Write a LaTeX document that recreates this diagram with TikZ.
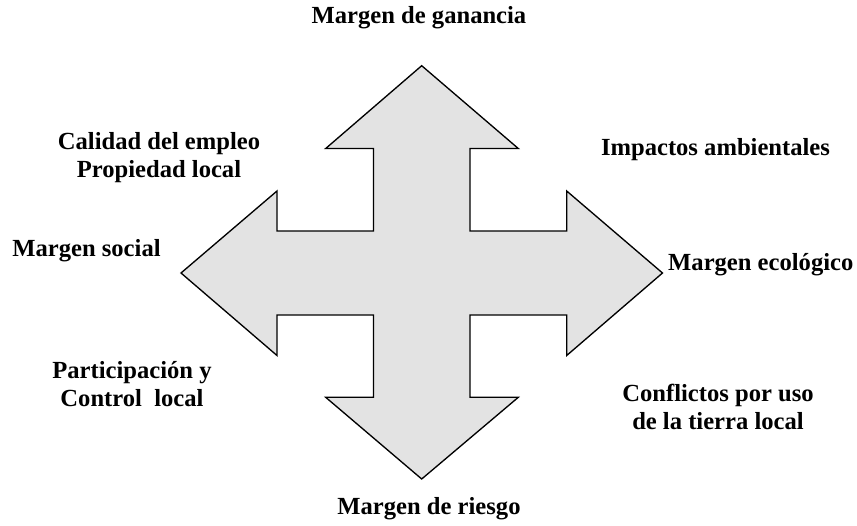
\documentclass[tikz,border=0pt]{standalone}
\usepackage{fontspec}
\setmainfont{Liberation Serif}
\usetikzlibrary{positioning}

\begin{document}
\begin{tikzpicture}[x=0.03cm, y=-0.03cm,
    lbl/.style={font=\bfseries\fontsize{21}{23.8}\selectfont, align=center, inner sep=0pt},
    arrowshape/.style={draw=black, fill=black!11, line width=0.04cm, line join=miter}]
    \useasboundingbox (0,0) rectangle (857,525);

    % tips of the cross
    \coordinate (Up) at (421.7, 65.7);
    \coordinate (Down) at (421.7, 479);
    \coordinate (Left) at (181, 273);
    \coordinate (Right) at (662.5, 273);

    \draw [arrowshape] (Up) -- (518.3,148.5) -- (470,148.5) -- (470,231) -- (566.7,231) -- (566.7,191)
        -- (Right) -- (566.7,355.5) -- (566.7,315) -- (470,315) -- (470,397.3) -- (518.3,397.3)
        -- (Down) -- (325.7,397.3) -- (373.5,397.3) -- (373.5,315) -- (277,315) -- (277,355.5)
        -- (Left) -- (277,191) -- (277,231) -- (373.5,231) -- (373.5,148.5) -- (325.7,148.5) -- cycle;

    \node [lbl] (ganancia) at (419, 18) {Margen de ganancia};
    \node [lbl] (empleo) at (159, 157.5) {Calidad del empleo\\Propiedad local};
    \node [lbl] (social) at (86.5, 251) {Margen social};
    \node [lbl] (ambiental) at (715.5, 150) {Impactos ambientales};
    \node [lbl, anchor=west] (ecologico) at (668, 265) {Margen ecológico};
    \node [lbl] (participacion) at (132, 384) {Participación y\\Control\ \ local};
    \node [lbl] (conflictos) at (718, 407) {Conflictos por uso\\de la tierra local};
    \node [lbl] (riesgo) at (429, 509) {Margen de riesgo};
\end{tikzpicture}
\end{document}
